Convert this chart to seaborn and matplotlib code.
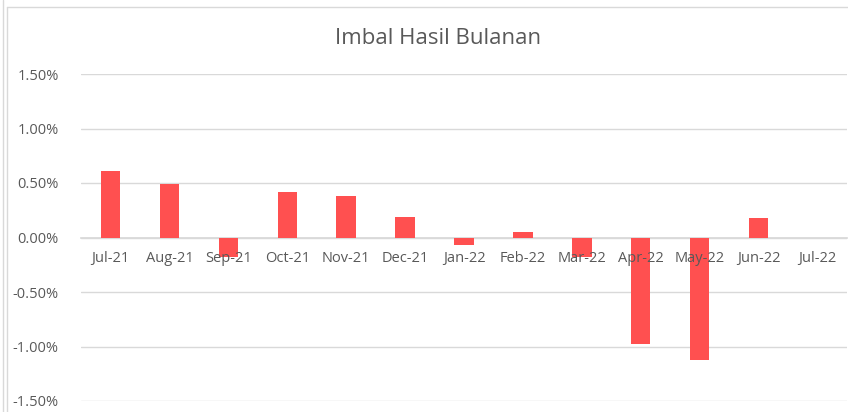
import numpy as np
import pandas as pd
import seaborn as sns
import matplotlib.pyplot as plt
from matplotlib.ticker import FuncFormatter, FixedLocator
from matplotlib.lines import Line2D

# data (imbal hasil bulanan, dalam %)
bulan = ['Jul-21', 'Aug-21', 'Sep-21', 'Oct-21', 'Nov-21', 'Dec-21', 'Jan-22',
         'Feb-22', 'Mar-22', 'Apr-22', 'May-22', 'Jun-22', 'Jul-22']
imbal = [0.61, 0.49, -0.18, 0.42, 0.38, 0.19, -0.07,
         0.05, -0.18, -0.98, -1.12, 0.18, 0.0]
y_ticks = [-1.5, -1.0, -0.5, 0.0, 0.5, 1.0, 1.5]

df = pd.DataFrame({'bulan': bulan, 'imbal': imbal})

sns.set_theme(style='white')
plt.rcParams['font.family'] = ['Open Sans', 'DejaVu Sans']

fig = plt.figure(figsize=(8.48, 4.12), dpi=100)
ax = fig.add_axes([81 / 848, 1 - 401 / 412, 766 / 848, 327 / 412])

sns.barplot(data=df, x='bulan', y='imbal', color='#FF5050', width=0.33,
            saturation=1, linewidth=0, ax=ax, zorder=3)

ax.set_ylim(-1.5, 1.5)
ax.set_xlim(-0.5, len(bulan) - 0.5)
ax.yaxis.set_major_locator(FixedLocator(y_ticks))
ax.yaxis.set_major_formatter(FuncFormatter(lambda v, p: f'{v:.2f}%'))
ax.grid(axis='y', color='#D9D9D9', linewidth=1, zorder=0)
ax.tick_params(axis='y', length=0, pad=16, labelsize=10.5, labelcolor='#595959')

# sumbu x di garis nol, tick di batas kategori
for s in ['top', 'right', 'left']:
    ax.spines[s].set_visible(False)
ax.spines['bottom'].set_position(('data', 0))
ax.spines['bottom'].set_color('#D9D9D9')
ax.spines['bottom'].set_zorder(2)
ax.set_xticks(np.arange(len(bulan) + 1) - 0.5, minor=True)
ax.tick_params(axis='x', which='minor', direction='out', length=5,
               color='#D9D9D9', width=1)
ax.tick_params(axis='x', which='major', length=0, pad=10, labelsize=10.5,
               labelcolor='#595959')
ax.xaxis.set_zorder(5)
ax.set_xlabel('')
ax.set_ylabel('')

fig.text(0.516, 1 - 38 / 412, 'Imbal Hasil Bulanan', ha='center', va='center',
         fontsize=16, color='#595959')

# bingkai chart
fig.add_artist(Line2D([2.5 / 848, 2.5 / 848], [0, 1], color='#D9D9D9', lw=1))
fig.add_artist(Line2D([6.5 / 848, 6.5 / 848], [0, 1 - 7 / 412], color='#D9D9D9', lw=1))
fig.add_artist(Line2D([6.5 / 848, 1], [1 - 7 / 412, 1 - 7 / 412], color='#D9D9D9', lw=1))

fig.savefig('out.png', dpi=100)
